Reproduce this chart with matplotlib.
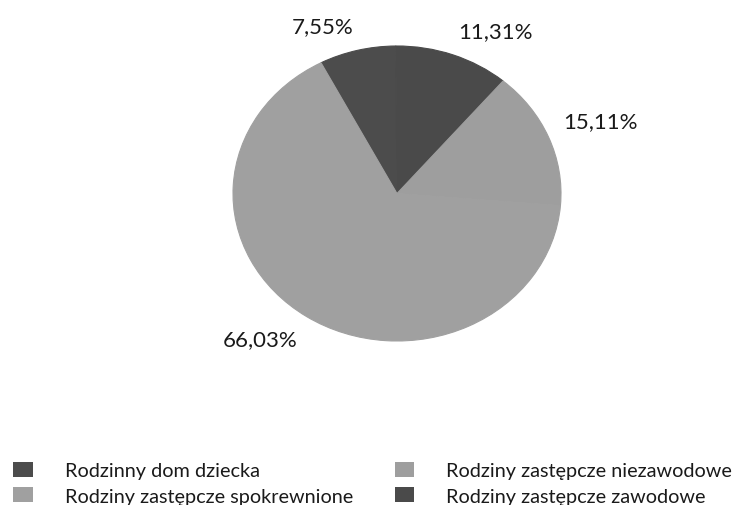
import numpy as np
import matplotlib
matplotlib.use("Agg")
import matplotlib.pyplot as plt
from matplotlib.patches import Patch

# Data (clockwise order, starting at upper-left)
categories = ["Rodzinny dom dziecka", "Rodziny zastępcze zawodowe",
              "Rodziny zastępcze niezawodowe", "Rodziny zastępcze spokrewnione"]
values = [7.55, 11.31, 15.11, 66.03]
labels = ["7,55%", "11,31%", "15,11%", "66,03%"]
colors = ["#4c4c4c", "#4a4a4a", "#9e9e9e", "#a0a0a0"]

legend_order = ["Rodzinny dom dziecka", "Rodziny zastępcze spokrewnione",
                "Rodziny zastępcze niezawodowe", "Rodziny zastępcze zawodowe"]

plt.rcParams['font.family'] = ['Lato', 'DejaVu Sans']

W, H = 744, 506
fig = plt.figure(figsize=(W / 100, H / 100), dpi=100)
fig.patch.set_facecolor("white")

cx, cy, rx, ry = 397, 194.5, 164, 147.5
lim = 1.2
ax = fig.add_axes([(cx - lim * rx) / W, (H - cy - lim * ry) / H,
                   2 * lim * rx / W, 2 * lim * ry / H])
wedges, _ = ax.pie(values, colors=colors, startangle=117.6, counterclock=False,
                   wedgeprops=dict(linewidth=0.8))
for w in wedges:
    w.set_edgecolor(w.get_facecolor())
ax.set_aspect('auto')
ax.set_xlim(-lim, lim)
ax.set_ylim(-lim, lim)
ax.axis('off')

for w, lab in zip(wedges, labels):
    mid = np.deg2rad((w.theta1 + w.theta2) / 2)
    x, y = 1.1 * np.cos(mid), 1.1 * np.sin(mid)
    ax.text(x, y, lab, ha='left' if x > 0 else 'right',
            va='bottom' if y > 0 else 'top', fontsize=16, color='#1a1a1a',
            clip_on=False)

cmap = dict(zip(categories, colors))
handles = [Patch(facecolor=cmap[c], edgecolor='none') for c in legend_order]
fig.legend(handles, legend_order, ncol=2, loc='upper left',
           bbox_to_anchor=(13 / W, 1 - 463 / H), frameon=False,
           borderpad=0, borderaxespad=0,
           fontsize=14.3, handlelength=1.0, handleheight=0.8,
           handletextpad=1.6, columnspacing=2.1, labelspacing=0.38,
           labelcolor='#1a1a1a')

fig.savefig("out.png", dpi=100, facecolor="white")
